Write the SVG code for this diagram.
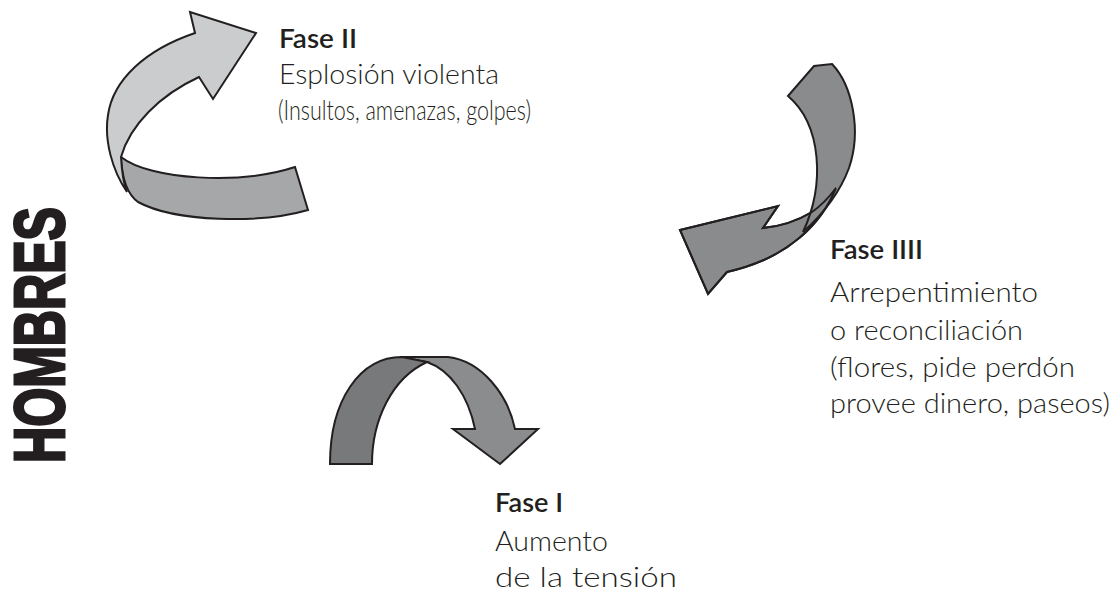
<svg xmlns="http://www.w3.org/2000/svg" xmlns:xlink="http://www.w3.org/1999/xlink" width="1116" height="591" viewBox="0 0 1116 591">
<style>
.bg{fill:#ffffff}
.ar{stroke:#231f20;stroke-width:2;stroke-linejoin:miter}
.ol{fill:none;stroke:#231f20;stroke-width:2}
.head{font-family:Lato,"Open Sans","Liberation Sans",sans-serif;font-weight:600;font-size:27px;fill:#231f20}
.body{font-family:"Lato Light","Open Sans Light",Lato,"Liberation Sans",sans-serif;font-weight:300;font-size:28px;fill:#231f20}
.side{font-family:"Liberation Sans Narrow","Liberation Sans",sans-serif;font-weight:bold;font-size:70px;fill:#231f20;stroke:#231f20;stroke-width:3}
</style>
<defs>
<path id="bLow" d="M680,230 L778,206 L763,228 C785,226 802,218 812,212 C822,205 830,196 836,188 C822,222 790,258 727,272 L708,294 Z"/>
<path id="bUp" d="M788,96 L814,66 L832,64 C852,85 862,130 849,168 C839,195 822,215 803,232 C825,185 822,125 788,96 Z"/>
</defs>
<rect class="bg" x="0" y="0" width="1116" height="591"/>
<g id="connectors">
  <g id="arrow-fase2">
    <path class="ar" fill="#a6a7a9" d="M121,157 C150,180 240,185 295,167 L308,210 C260,224 175,222 138,202 C127,194 122,180 121,157 Z"/>
    <path class="ar" fill="#cbcccd" d="M195,33 L190,12 L256,33 L213,99 L199,77 C160,95 130,125 121,157 C122,175 124,185 127,192 C112,170 104,140 108,115 C113,80 145,50 195,33 Z"/>
  </g>
  <g id="arrow-fase4">
    <use xlink:href="#bLow" href="#bLow" class="ar" fill="#8a8b8d"/>
    <use xlink:href="#bUp" href="#bUp" class="ar" fill="#8a8b8d"/>
    <use xlink:href="#bLow" href="#bLow" class="ol"/>
  </g>
  <g id="arrow-fase1">
    <path class="ar" fill="#8b8c8e" d="M400,357 L448,357 C482,361 508,395 515,429 L538,429 L500,464 L453,429 L475,429 C468,395 450,370 427,362 Z"/>
    <path class="ar" fill="#78797b" d="M330,464 C330,400 360,357 402,357 L427,362 C392,378 372,420 372,464 Z"/>
  </g>
</g>
<g id="node-fase2">
  <text class="head" x="279" y="48" textLength="78" lengthAdjust="spacingAndGlyphs">Fase II</text>
  <text class="body" x="279" y="84" textLength="220" lengthAdjust="spacingAndGlyphs">Esplosión violenta</text>
  <text class="body" x="278" y="120" textLength="253" lengthAdjust="spacingAndGlyphs">(Insultos, amenazas, golpes)</text>
</g>
<g id="node-fase4">
  <text class="head" x="830" y="259" textLength="93" lengthAdjust="spacingAndGlyphs">Fase IIII</text>
  <text class="body" x="830" y="302" textLength="208" lengthAdjust="spacingAndGlyphs">Arrepentimiento</text>
  <text class="body" x="830" y="340" textLength="193" lengthAdjust="spacingAndGlyphs">o reconciliación</text>
  <text class="body" x="830" y="377" textLength="245" lengthAdjust="spacingAndGlyphs">(flores, pide perdón</text>
  <text class="body" x="830" y="413" textLength="280" lengthAdjust="spacingAndGlyphs">provee dinero, paseos)</text>
</g>
<g id="node-fase1">
  <text class="head" x="495" y="512" textLength="68" lengthAdjust="spacingAndGlyphs">Fase I</text>
  <text class="body" x="495" y="551" textLength="113" lengthAdjust="spacingAndGlyphs">Aumento</text>
  <text class="body" x="495" y="587" textLength="182" lengthAdjust="spacingAndGlyphs">de la tensión</text>
</g>
<g id="title">
  <text class="side" transform="translate(64,463) rotate(-90)" x="0" y="0" textLength="256" lengthAdjust="spacingAndGlyphs">HOMBRES</text>
</g>
</svg>
